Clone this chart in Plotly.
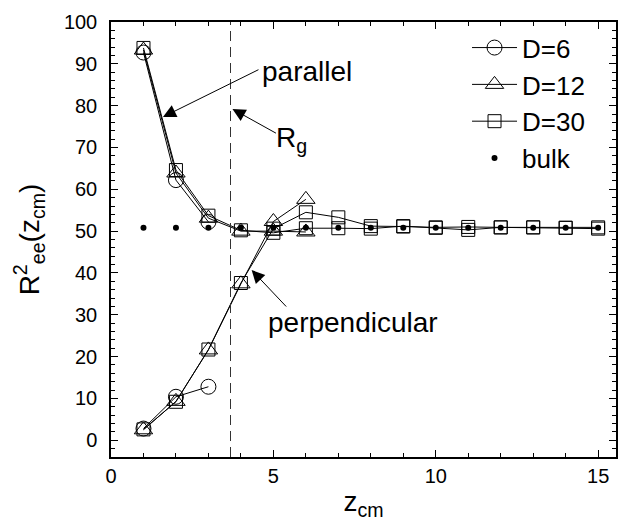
import plotly.graph_objects as go

# ---- data ----
x_d6 = [1, 2, 3]
d6_par = [92.7, 62.2, 52.2]
d6_perp = [2.8, 10.4, 12.8]

x_d12 = [1, 2, 3, 4, 5, 6]
d12_par = [93.3, 63.9, 53.1, 50.0, 50.0, 49.8]
d12_perp = [2.5, 9.3, 21.6, 37.4, 52.3, 57.6]

x_d30 = list(range(1, 16))
d30_par = [93.8, 64.6, 53.7, 50.2, 49.6, 50.7, 50.7, 50.6, 51.2, 50.8, 50.3, 50.9, 50.9, 50.8, 50.9]
d30_perp = [2.6, 9.2, 21.7, 37.6, 50.6, 54.5, 53.3, 51.2, 51.1, 50.9, 51.0, 50.9, 50.9, 50.8, 50.6]

x_bulk = list(range(1, 16))
bulk = [50.8] * 15

rg = 3.68

FONT = "Liberation Sans, Arial, Helvetica, sans-serif"

fig = go.Figure()

def add_series(x, par, perp, name, symbol, size):
    for i, y in enumerate([par, perp]):
        fig.add_trace(go.Scatter(
            x=x, y=y, mode="lines+markers", name=name,
            legendgroup=name, showlegend=(i == 0),
            line=dict(color="black", width=1),
            marker=dict(symbol=symbol, size=size, color="black",
                        line=dict(color="black", width=1)),
        ))

add_series(x_d6, d6_par, d6_perp, "D=6", "circle-open", 15)
add_series(x_d12, d12_par, d12_perp, "D=12", "triangle-up-open", 16)
add_series(x_d30, d30_par, d30_perp, "D=30", "square-open", 13)

fig.add_trace(go.Scatter(
    x=x_bulk, y=bulk, mode="markers", name="bulk", legendgroup="bulk",
    marker=dict(symbol="circle", size=6, color="black"),
))

# dashed Rg line
fig.add_shape(type="line", x0=rg, x1=rg, y0=0, y1=1, xref="x", yref="paper",
              line=dict(color="#333333", width=1, dash="10px,6px"))

# annotations: arrows
arrow_kw = dict(showarrow=True, arrowhead=2, arrowsize=2.6, arrowwidth=1,
                arrowcolor="black", text="", axref="pixel", ayref="pixel")
fig.add_annotation(x=1.6, y=77.3, ax=97, ay=-48, **arrow_kw)
fig.add_annotation(x=3.74, y=79.2, ax=45, ay=25, **arrow_kw)
fig.add_annotation(x=4.33, y=40.7, ax=36, ay=38, **arrow_kw)

txt_font = dict(family=FONT, size=28, color="black")
fig.add_annotation(x=6.05, y=88.2, text="parallel", showarrow=False, font=txt_font)
fig.add_annotation(x=5.55, y=72.0, text="R<sub>g</sub>", showarrow=False, font=txt_font)
fig.add_annotation(x=7.45, y=28.2, text="perpendicular", showarrow=False, font=txt_font)

axis_common = dict(
    showline=True, linecolor="black", linewidth=1.5, mirror="ticks",
    ticks="inside", ticklen=7, tickwidth=1.2, tickcolor="black",
    showgrid=False, zeroline=False,
    tickfont=dict(family=FONT, size=20, color="black"),
)

fig.update_xaxes(
    range=[0, 15.55], tick0=0, dtick=5,
    minor=dict(dtick=1, ticks="inside", ticklen=4, tickcolor="black", showgrid=False),
    title=dict(text="z<sub>cm</sub>", font=dict(family=FONT, size=28, color="black"), standoff=6),
    **axis_common,
)
fig.update_yaxes(
    range=[-4, 100], tick0=0, dtick=10, ticklabelstandoff=8,
    minor=dict(dtick=2, ticks="inside", ticklen=4, tickcolor="black", showgrid=False),
    title=dict(text="R<sup>2</sup><sub>ee</sub>(z<sub>cm</sub>)",
               font=dict(family=FONT, size=28, color="black"), standoff=16),
    **axis_common,
)

fig.update_layout(
    width=624, height=523,
    margin=dict(l=111, r=6, t=22, b=66),
    paper_bgcolor="white", plot_bgcolor="white",
    font=dict(family=FONT, color="black"),
    legend=dict(x=0.705, y=0.995, xanchor="left", yanchor="top",
                bgcolor="rgba(0,0,0,0)", font=dict(family=FONT, size=26, color="black"),
                tracegroupgap=0, itemwidth=45),
)

fig.write_html("out.html")
